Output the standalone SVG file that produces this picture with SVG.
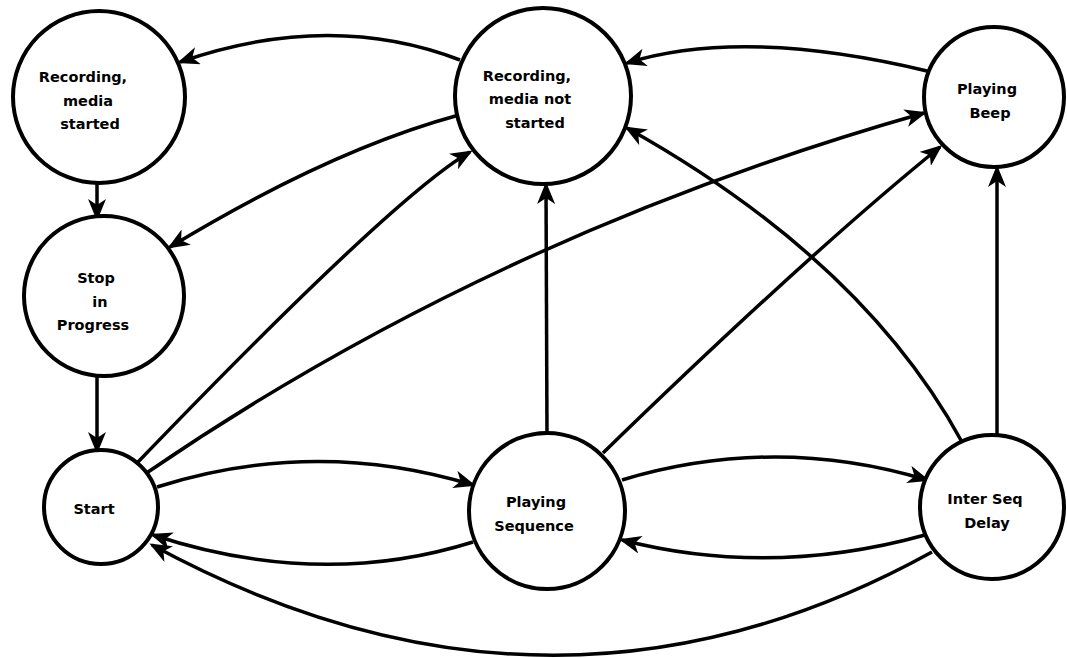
<svg xmlns="http://www.w3.org/2000/svg" width="1067" height="658" viewBox="0 0 1067 658">
<style>
.node circle{fill:#fff;stroke:#000;stroke-width:4}
.node text{font-family:"DejaVu Sans",Verdana,sans-serif;font-weight:bold;font-size:14.5px;fill:#000;text-anchor:middle}
.edges path{fill:none;stroke:#000;stroke-width:3.5;marker-end:url(#arr)}
</style>
<defs>
<marker id="arr" markerUnits="userSpaceOnUse" viewBox="0 0 22 18" markerWidth="22" markerHeight="18" refX="19" refY="9" orient="auto">
<path d="M0,0 L22,9 L0,18 L6,9 z" fill="#000"/>
</marker>
</defs>
<rect width="1067" height="658" fill="#fff"/>
<g class="edges">
<path id="e1" d="M460,60 Q330,10 180,62"/>
<path id="e2" d="M459,115 Q330,150 170,247"/>
<path id="e3" d="M97,183 L97,218"/>
<path id="e4" d="M97,376 L97,451"/>
<path id="e5" d="M138,462 Q395,195 470,152"/>
<path id="e6" d="M148,472 Q494,235 924,113"/>
<path id="e7" d="M157,487 Q315,437 473,485"/>
<path id="e8" d="M473,542 Q320,590 153,535"/>
<path id="e9" d="M932,552 Q552,762 152,545"/>
<path id="e10" d="M622,480 Q775,434 927,480"/>
<path id="e11" d="M925,535 Q770,578 622,540"/>
<path id="e12" d="M547,435 L546,185"/>
<path id="e13" d="M603,453 Q809,253 940,147"/>
<path id="e14" d="M997,435 L997,168"/>
<path id="e15" d="M962,442 Q863,260 627,128"/>
<path id="e16" d="M927,71 Q743,27 627,63"/>
</g>
<g id="rec-started" class="node">
<circle cx="99" cy="97" r="86"/>
<text x="83" y="82">Recording,</text>
<text x="88" y="106">media</text>
<text x="90" y="129">started</text>
</g>
<g id="rec-not-started" class="node">
<circle cx="543" cy="96" r="88"/>
<text x="527" y="81">Recording,</text>
<text x="530" y="104">media not</text>
<text x="535" y="128">started</text>
</g>
<g id="playing-beep" class="node">
<circle cx="994" cy="97" r="70"/>
<text x="987" y="94">Playing</text>
<text x="990" y="118">Beep</text>
</g>
<g id="stop" class="node">
<circle cx="104" cy="296" r="80"/>
<text x="96" y="283">Stop</text>
<text x="100" y="307">in</text>
<text x="93" y="330">Progress</text>
</g>
<g id="start" class="node">
<circle cx="101" cy="507" r="57"/>
<text x="94" y="514">Start</text>
</g>
<g id="playing-seq" class="node">
<circle cx="547" cy="511" r="78"/>
<text x="536" y="507">Playing</text>
<text x="534" y="531">Sequence</text>
</g>
<g id="inter-seq" class="node">
<circle cx="992" cy="507" r="72"/>
<text x="985" y="504">Inter Seq</text>
<text x="987" y="528">Delay</text>
</g>
</svg>
